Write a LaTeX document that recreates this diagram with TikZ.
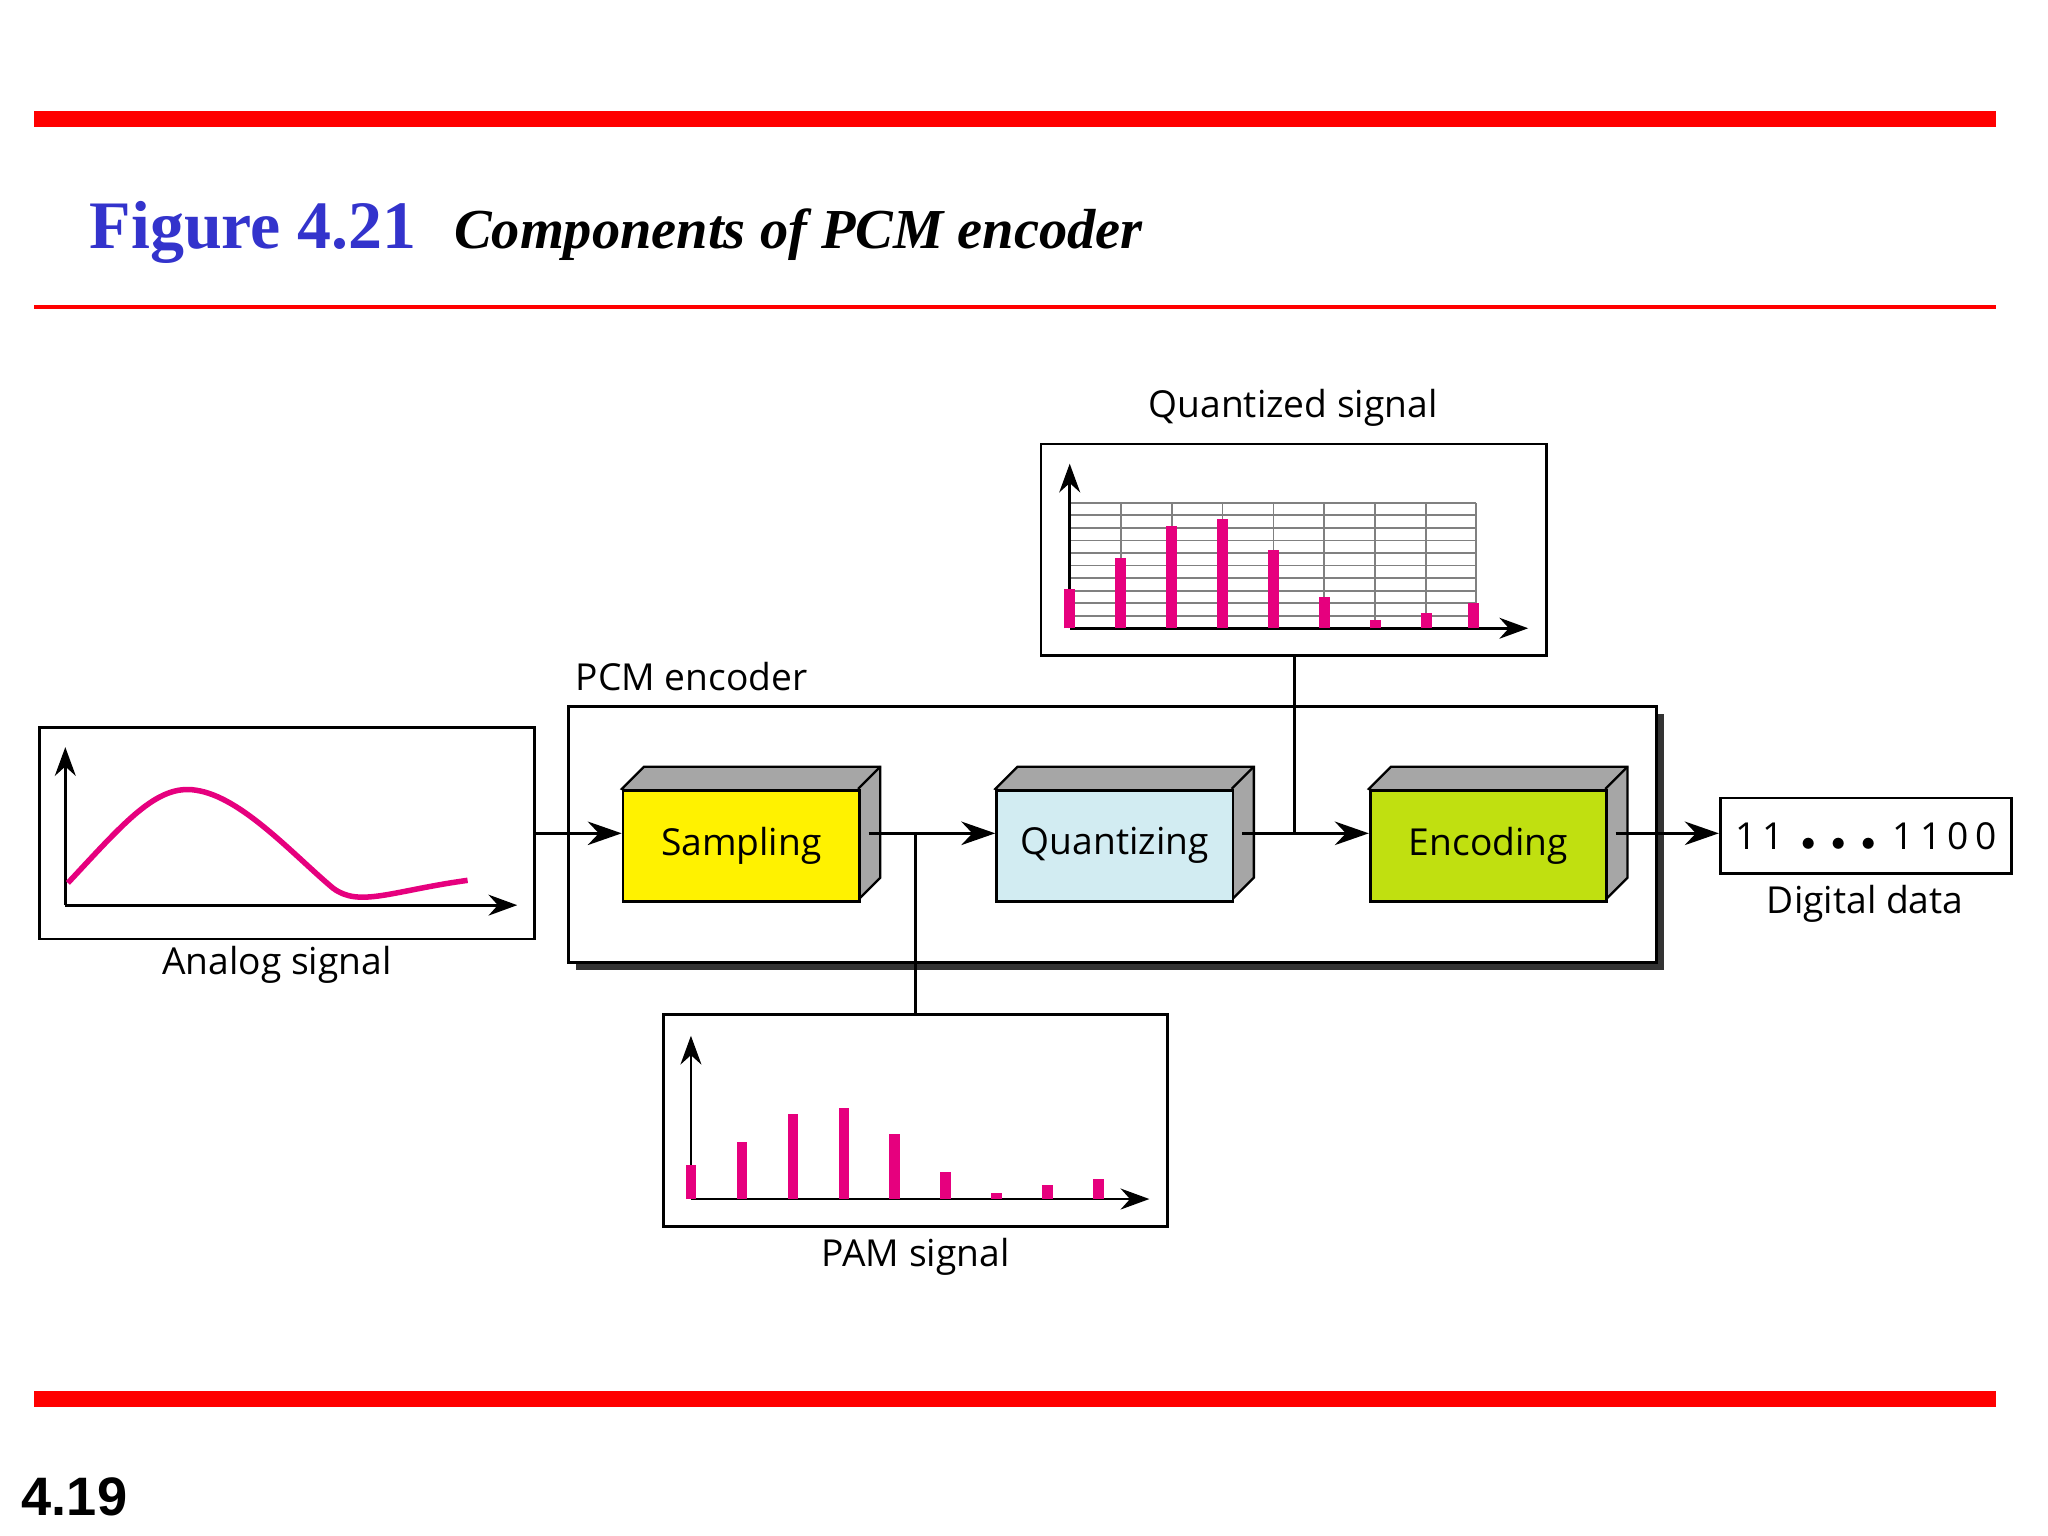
\documentclass[tikz,border=0pt]{standalone}
\usepackage{fontspec}
\setmainfont{Open Sans}
\newfontfamily\serifb{Liberation Serif}
\newfontfamily\headsans{Liberation Sans}
\usetikzlibrary{arrows.meta}
\definecolor{mag}{RGB}{230,0,126}
\definecolor{qcol}{RGB}{210,236,242}
\definecolor{ecol}{RGB}{192,224,16}
\tikzset{
  frame/.style={draw=black,line width=0.6pt},
  lab/.style={font=\fontsize{8.1}{10}\selectfont,inner sep=0pt},
  ax/.style={line width=0.6pt,-{Stealth[length=2.2mm,width=1.6mm]}},
  flow/.style={line width=0.7pt,-{Stealth[length=2.6mm,width=1.8mm]}},
  bar/.style={mag,line width=0.8mm},
}
\newcommand{\blk}[4]{% x, name, colour, text
  \fill[gray!70,draw=black,line width=0.5pt] (#1,604) -- ++(17,-17) -- ++(181,0) -- ++(0,85) -- ++(-17,17) -- cycle;
  \draw[line width=0.5pt] (#1+181,604) -- ++(17,-17);
  \node[frame,fill=#3,minimum width=18.1mm,minimum height=8.5mm,anchor=north west,inner sep=0pt,font=\fontsize{8.1}{10}\selectfont] (#2) at (#1,604) {#4};
}
\begin{document}
\begin{tikzpicture}[x=0.1mm,y=-0.1mm]
\useasboundingbox (0,0) rectangle (1568,1176);
\fill[white] (0,0) rectangle (1568,1176);
% header
\fill[red] (26,85) rectangle (1528,97);
\fill[red] (26,233.5) rectangle (1528,236.5);
\fill[red] (26,1065) rectangle (1528,1077);
\node[anchor=base west,inner sep=0pt,text={rgb,255:red,51;green,51;blue,204},font=\serifb\bfseries\fontsize{14.8}{18}\selectfont] (fig) at (68,190) {Figure 4.21};
\node[anchor=base west,inner sep=0pt,font=\serifb\bfseries\itshape\fontsize{12.3}{14}\selectfont] (cap) at (347,190) {Components of PCM encoder};
\node[anchor=base west,inner sep=0pt,font=\headsans\bfseries\fontsize{11.8}{13}\selectfont] (pg) at (16,1160) {4.19};
% analog
\draw[frame] (30,557) rectangle (409,719);
\coordinate (ao) at (50,693);
\draw[ax] (ao) -- (50,572);
\draw[ax] (ao) -- (396,693);
\draw[mag,line width=1.2pt] (52,676) .. controls (95,630) and (120,600) .. (150,605) .. controls (185,610) and (225,655) .. (255,680) .. controls (275,695) and (300,682) .. (358,674);
\node[lab] (al) at (212,739) {Analog signal};
% encoder box
\fill[black!80] (441,547) rectangle (1274,743);
\draw[frame,fill=white] (435,541) rectangle (1268,737);
\node[lab,anchor=base west] (pcm) at (440,529) {PCM encoder};
\blk{476}{S}{yellow}{Sampling}
\blk{762}{Q}{qcol}{Quantizing}
\blk{1048}{E}{ecol}{Encoding}
% digital data
\node[frame,minimum width=22.3mm,minimum height=5.8mm,inner sep=0pt,font=\fontsize{8.1}{10}\selectfont] (D) at (1428.5,640) {1\,1 \,{\tiny$\bullet\,\bullet\,\bullet$}\, 1\,1\,0\,0};
\node[lab] (dl) at (1428,692) {Digital data};
% flow arrows
\coordinate (a1) at (409,638);
\draw[flow] (a1) -- (476,638);
\coordinate (s1) at (665,638);
\draw[flow] (s1) -- (762,638);
\coordinate (q1) at (951,638);
\draw[flow] (q1) -- (1048,638);
\coordinate (e1) at (1237,638);
\draw[flow] (e1) -- (D.west |- e1);
% PAM
\draw[frame] (508,777) rectangle (894,939);
\draw[line width=0.6pt] (701,638) -- (701,777);
\draw[ax] (529,918) -- (529,793);
\draw[ax] (529,918) -- (880,918);
\foreach \x/\t in {529/892,568/874,607/853,646/848,685/868,724/897,763/913,802/907,841/903}
  \draw[bar] (\x,918) -- (\x,\t);
\node[lab] (pl) at (701,962) {PAM signal};
% quantized
\draw[frame] (797,340) rectangle (1184,502);
\draw[line width=0.6pt] (991,502) -- (991,638);
\foreach \i in {0,...,10} \draw[gray,line width=0.4pt] (819,385+9.6*\i) -- (1130,385+9.6*\i);
\foreach \x in {858,897,936,975,1014,1053,1092,1130} \draw[gray,line width=0.4pt] (\x,385) -- (\x,481);
\draw[ax] (819,481) -- (819,355);
\draw[ax] (819,481) -- (1170,481);
\foreach \x/\t in {819/451,858/427,897/403,936/397,975/421,1014/457,1053/475,1092/469,1128/462}
  \draw[bar] (\x,481) -- (\x,\t);
\node[lab] (ql) at (990,312) {Quantized signal};
\end{tikzpicture}
\end{document}
